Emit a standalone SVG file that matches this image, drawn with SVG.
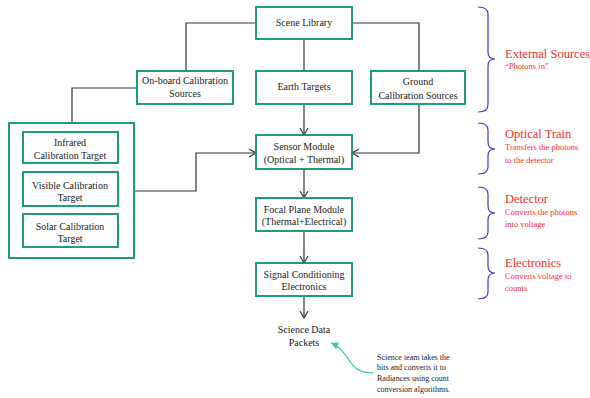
<svg xmlns="http://www.w3.org/2000/svg" width="590" height="398" viewBox="0 0 590 398">
<style>
.box{fill:#fff;stroke:#1f9c7c;stroke-width:2}
.t{font-size:10px;fill:#222;text-anchor:middle}
.c{fill:none;stroke:#333;stroke-width:1.2}
.br{fill:none;stroke:#3a3acc;stroke-width:1.2}
.rh{font-size:12.5px;fill:#ff2a2a}
.rs{font-size:8.5px;fill:#ff2a2a}
.note{font-size:8px;fill:#222}
</style>
<defs>
<marker id="ah" markerWidth="10" markerHeight="10" refX="8" refY="5" orient="auto" markerUnits="userSpaceOnUse">
<path d="M1,1 L8,5 L1,9" fill="none" stroke="#333" stroke-width="1.2"/>
</marker>
<marker id="gh" markerWidth="10" markerHeight="10" refX="8" refY="5" orient="auto" markerUnits="userSpaceOnUse">
<path d="M1,1.5 L8,5 L1,8.5 Z" fill="#2ccf9c" stroke="none"/>
</marker>
</defs>
<rect width="590" height="398" fill="#fff"/>
<g id="connectors">
<path class="c" d="M256,23 H186 V71"/>
<path class="c" d="M352,23 H419 V71"/>
<path class="c" d="M304,39 V71"/>
<path class="c" d="M137,88 H72 V123"/>
<path class="c" d="M304,104 V135" marker-end="url(#ah)"/>
<path class="c" d="M419,104 V153 H352" marker-end="url(#ah)"/>
<path class="c" d="M134,191 H196 V153 H256" marker-end="url(#ah)"/>
<path class="c" d="M304,169 V198" marker-end="url(#ah)"/>
<path class="c" d="M304,231 V263" marker-end="url(#ah)"/>
<path class="c" d="M304,296 V318" marker-end="url(#ah)"/>
<path d="M373,373 C346,373 352,352 331,343" fill="none" stroke="#2ccf9c" stroke-width="1.2" marker-end="url(#gh)"/>
</g>
<g font-family="Liberation Serif, Times New Roman, serif">
<g id="scene-library"><rect class="box" x="256" y="7" width="96" height="32"/><text class="t" x="304" y="26">Scene Library</text></g>
<g id="onboard"><rect class="box" x="137" y="71" width="96" height="33"/><text class="t" x="185" y="84">On-board Calibration</text><text class="t" x="185" y="97">Sources</text></g>
<g id="earth"><rect class="box" x="256" y="71" width="96" height="33"/><text class="t" x="304" y="90">Earth Targets</text></g>
<g id="ground"><rect class="box" x="371" y="71" width="94" height="33"/><text class="t" x="418" y="85">Ground</text><text class="t" x="418" y="99">Calibration  Sources</text></g>
<g id="cal-group"><rect class="box" x="9" y="123" width="125" height="135"/></g>
<g id="infrared"><rect class="box" x="23" y="132" width="95" height="31"/><text class="t" x="70" y="146">Infrared</text><text class="t" x="70" y="159">Calibration  Target</text></g>
<g id="visible"><rect class="box" x="23" y="172" width="95" height="34"/><text class="t" x="70" y="189">Visible Calibration</text><text class="t" x="70" y="201">Target</text></g>
<g id="solar"><rect class="box" x="23" y="214" width="95" height="33"/><text class="t" x="70" y="230">Solar Calibration</text><text class="t" x="70" y="242">Target</text></g>
<g id="sensor"><rect class="box" x="256" y="135" width="96" height="34"/><text class="t" x="304" y="150">Sensor Module</text><text class="t" x="304" y="163">(Optical + Thermal)</text></g>
<g id="focal"><rect class="box" x="256" y="198" width="96" height="33"/><text class="t" x="304" y="213">Focal Plane Module</text><text class="t" x="304" y="225">(Thermal+Electrical)</text></g>
<g id="signal"><rect class="box" x="256" y="263" width="96" height="33"/><text class="t" x="304" y="278">Signal Conditioning</text><text class="t" x="304" y="290">Electronics</text></g>
<g id="packets"><text class="t" x="304" y="333">Science  Data</text><text class="t" x="304" y="346">Packets</text></g>
<g id="note"><text class="note" x="377" y="360">Science team takes the</text><text class="note" x="377" y="370">bits and converts it to</text><text class="note" x="377" y="381">Radiances using count</text><text class="note" x="377" y="392">conversion algorithms.</text></g>
<g id="labels">
<text class="rh" x="505" y="58">External Sources</text><text class="rs" x="505" y="69">“Photons in”</text>
<text class="rh" x="505" y="138">Optical Train</text><text class="rs" x="505" y="150">Transfers the photons</text><text class="rs" x="505" y="163">to the detector</text>
<text class="rh" x="505" y="203">Detector</text><text class="rs" x="505" y="215">Converts the photons</text><text class="rs" x="505" y="227">into voltage</text>
<text class="rh" x="505" y="267">Electronics</text><text class="rs" x="505" y="279">Converts voltage to</text><text class="rs" x="505" y="291">counts</text>
</g>
</g>
<g id="braces">
<path class="br" d="M478,7 Q488,7 488,14 V52 Q488,59 495,59 Q488,59 488,66 V105 Q488,112 478,112"/>
<path class="br" d="M478,123 Q488,123 488,130 V142 Q488,149 495,149 Q488,149 488,156 V167 Q488,174 478,174"/>
<path class="br" d="M478,187 Q488,187 488,194 V206 Q488,213 495,213 Q488,213 488,220 V232 Q488,239 478,239"/>
<path class="br" d="M478,248 Q488,248 488,255 V266 Q488,273 495,273 Q488,273 488,280 V292 Q488,299 478,299"/>
</g>
</svg>
